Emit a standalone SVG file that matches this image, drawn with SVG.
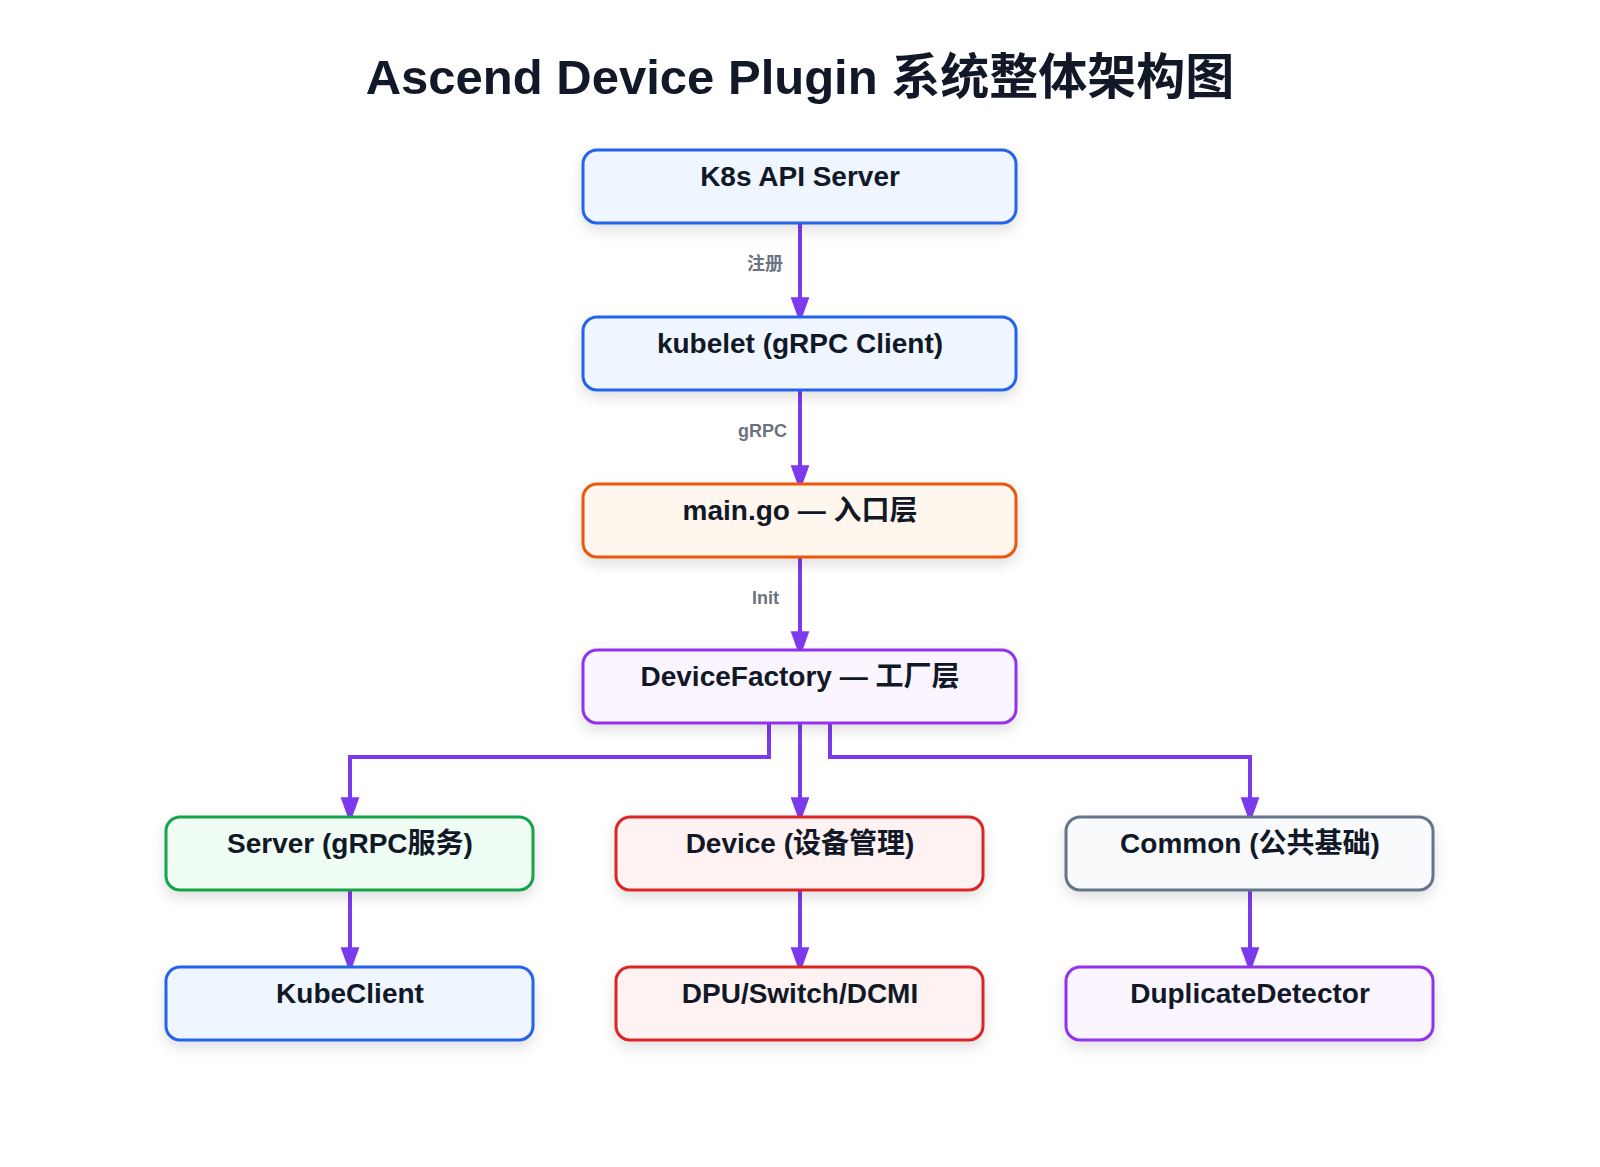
<svg xmlns="http://www.w3.org/2000/svg" width="1600" height="1167" viewBox="0 0 1600 1167">
<defs>
<filter id="sh" x="-20%" y="-30%" width="140%" height="170%"><feDropShadow dx="0" dy="6" stdDeviation="7" flood-color="#000" flood-opacity="0.12"/></filter>
<marker id="ah" markerUnits="userSpaceOnUse" markerWidth="26" markerHeight="36" refX="26" refY="13" orient="auto" viewBox="0 0 36 26"><path d="M0,0 L36,13 L0,26 Z" fill="#7c3aed"/></marker>
<style>
text{font-family:"Liberation Sans","Noto Sans CJK SC",sans-serif;font-weight:bold;text-anchor:middle}
.t{font-size:28px;fill:#111827}
.l{font-size:18px;fill:#6b7280;text-anchor:end}
.c{fill:none;stroke:#7c3aed;stroke-width:4}
rect{stroke-width:3;filter:url(#sh)}
.blue{fill:#eff6ff;stroke:#2563eb}.org{fill:#fff7ed;stroke:#ea580c}.pur{fill:#faf5ff;stroke:#9333ea}
.grn{fill:#f0fdf4;stroke:#16a34a}.red{fill:#fef2f2;stroke:#dc2626}.gry{fill:#f8fafc;stroke:#64748b}
</style>
</defs>
<rect width="1600" height="1167" fill="#fff" style="filter:none;stroke:none"/>
<text x="800" y="94" style="font-size:49px;fill:#111827">Ascend Device Plugin 系统整体架构图</text>
<g id="connectors">
<path class="c" d="M800,223 V316" marker-end="url(#ah)"/>
<path class="c" d="M800,390 V484" marker-end="url(#ah)"/>
<path class="c" d="M800,557 V650" marker-end="url(#ah)"/>
<path class="c" d="M769,723 V757 H350 V816" marker-end="url(#ah)"/>
<path class="c" d="M800,723 V816" marker-end="url(#ah)"/>
<path class="c" d="M830,723 V757 H1250 V816" marker-end="url(#ah)"/>
<path class="c" d="M350,890 V966" marker-end="url(#ah)"/>
<path class="c" d="M800,890 V966" marker-end="url(#ah)"/>
<path class="c" d="M1250,890 V966" marker-end="url(#ah)"/>
<text class="l" x="783" y="270">注册</text>
<text class="l" x="787" y="437">gRPC</text>
<text class="l" x="779" y="604">Init</text>
</g>
<g id="k8s"><rect class="blue" x="583" y="150" width="433" height="73" rx="14"/><text class="t" x="800" y="186">K8s API Server</text></g>
<g id="kubelet"><rect class="blue" x="583" y="317" width="433" height="73" rx="14"/><text class="t" x="800" y="353">kubelet (gRPC Client)</text></g>
<g id="main"><rect class="org" x="583" y="484" width="433" height="73" rx="14"/><text class="t" x="800" y="520">main.go — 入口层</text></g>
<g id="factory"><rect class="pur" x="583" y="650" width="433" height="73" rx="14"/><text class="t" x="800" y="686">DeviceFactory — 工厂层</text></g>
<g id="server"><rect class="grn" x="166" y="817" width="367" height="73" rx="14"/><text class="t" x="350" y="853">Server (gRPC服务)</text></g>
<g id="device"><rect class="red" x="616" y="817" width="367" height="73" rx="14"/><text class="t" x="800" y="853">Device (设备管理)</text></g>
<g id="common"><rect class="gry" x="1066" y="817" width="367" height="73" rx="14"/><text class="t" x="1250" y="853">Common (公共基础)</text></g>
<g id="kubeclient"><rect class="blue" x="166" y="967" width="367" height="73" rx="14"/><text class="t" x="350" y="1003">KubeClient</text></g>
<g id="dpu"><rect class="red" x="616" y="967" width="367" height="73" rx="14"/><text class="t" x="800" y="1003">DPU/Switch/DCMI</text></g>
<g id="dup"><rect class="pur" x="1066" y="967" width="367" height="73" rx="14"/><text class="t" x="1250" y="1003">DuplicateDetector</text></g>
</svg>
